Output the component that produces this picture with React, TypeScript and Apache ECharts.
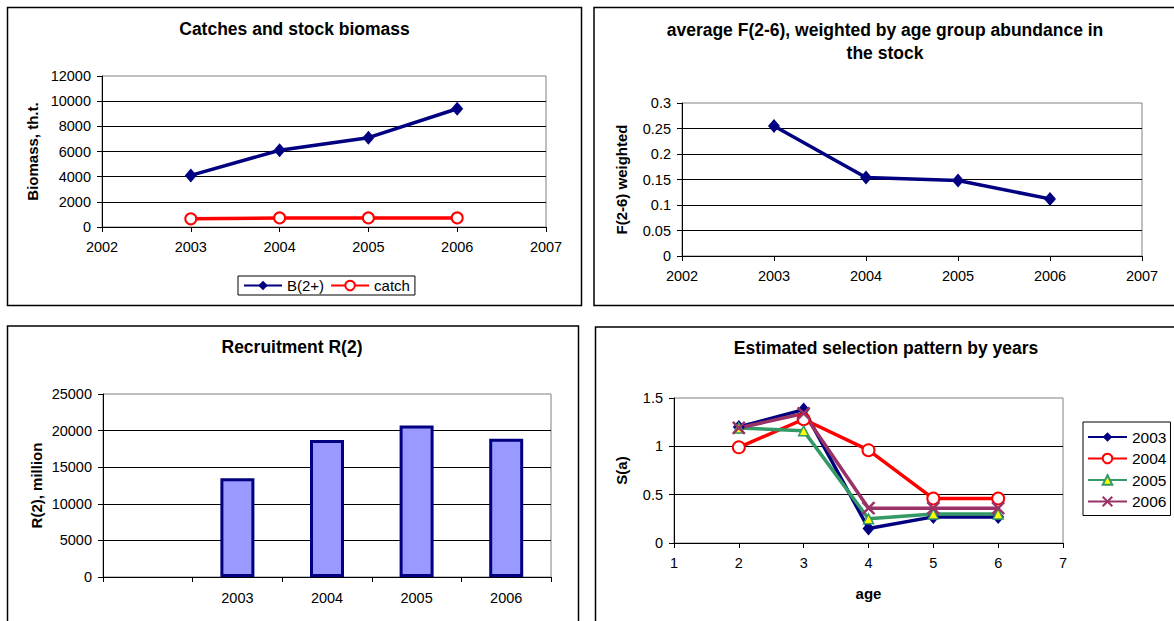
import React, { useEffect, useRef } from "react";
import * as echarts from "echarts";

// Stock assessment summary: four panels
const years = [2003, 2004, 2005, 2006];
const biomass = [4100, 6100, 7100, 9400];
const catches = [650, 720, 720, 720];
const fWeighted = [0.255, 0.154, 0.148, 0.112];

const recruitCategories = ["", "2003", "2004", "2005", "2006"];
const recruitment: (number | string)[] = ["-", 13500, 18700, 20700, 18900];

const ages = [2, 3, 4, 5, 6];
const sel2003 = [1.2, 1.38, 0.15, 0.27, 0.27];
const sel2004 = [0.99, 1.28, 0.96, 0.46, 0.46];
const sel2005 = [1.19, 1.16, 0.25, 0.3, 0.3];
const sel2006 = [1.19, 1.34, 0.36, 0.36, 0.36];

const FONT = "'Liberation Sans', Arial, sans-serif";
const TICK_SIZE = 14.5;
const LEGEND_SIZE = 15.5;
const NAME_SIZE = 15;
const TITLE_SIZE = 17.5;
const LINE_W = 3.5;

const NAVY = "#000080";
const RED = "#ff0000";
const GREEN = "#339966";
const PURPLE = "#993366";

const pairs = (xs: number[], ys: number[]) => xs.map((x, i) => [x, ys[i]]);
const fmt = (v: number) => String(+Number(v).toFixed(4));

function valueXAxis(gridIndex: number, min: number, max: number, extra: any = {}) {
  return {
    type: "value",
    gridIndex,
    min,
    max,
    interval: 1,
    axisLine: { show: true, onZero: false, lineStyle: { color: "#000", width: 1 } },
    axisTick: { show: true, length: 5, lineStyle: { color: "#000" } },
    axisLabel: { color: "#000", fontSize: TICK_SIZE, fontFamily: FONT, margin: 12, formatter: fmt },
    splitLine: { show: false },
    ...extra,
  };
}

function valueYAxis(gridIndex: number, min: number, max: number, interval: number, name: string, nameGap: number) {
  return {
    type: "value",
    gridIndex,
    min,
    max,
    interval,
    name,
    nameLocation: "middle",
    nameRotate: 90,
    nameGap,
    nameTextStyle: { color: "#000", fontSize: NAME_SIZE, fontWeight: "bold", fontFamily: FONT },
    axisLine: { show: true, lineStyle: { color: "#000", width: 1 } },
    axisTick: { show: true, length: 5, lineStyle: { color: "#000" } },
    axisLabel: { color: "#000", fontSize: TICK_SIZE, fontFamily: FONT, margin: 11, formatter: fmt },
    splitLine: { show: true, showMaxLine: false, lineStyle: { color: "#000", width: 1 } },
  };
}

const gridBase = { show: true, borderColor: "#808080", borderWidth: 1, backgroundColor: "transparent" };

function titleText(x: number, y: number, text: string, lineHeight = 23) {
  return {
    type: "text",
    x,
    y,
    style: {
      text,
      fill: "#000",
      font: `bold ${TITLE_SIZE}px ${FONT}`,
      align: "center",
      verticalAlign: "middle",
      lineHeight,
    },
  };
}

function panelRect(x: number, y: number, width: number, height: number) {
  return {
    type: "rect",
    shape: { x, y, width, height },
    style: { fill: "none", stroke: "#000", lineWidth: 1.5 },
  };
}

export default function App() {
  const ref = useRef<HTMLDivElement>(null);

  useEffect(() => {
    if (!ref.current) return;
    const chart = echarts.init(ref.current, null, { renderer: "svg" });

    const option: any = {
      animation: false,
      backgroundColor: "#fff",
      textStyle: { fontFamily: FONT },
      graphic: [
        panelRect(7.5, 7.5, 574, 298),
        panelRect(594, 7.5, 640, 298),
        panelRect(7.5, 326, 571, 400),
        panelRect(595.5, 327, 640, 400),
        titleText(294.5, 29, "Catches and stock biomass"),
        titleText(885, 41.5, "average F(2-6), weighted by age group abundance in\nthe stock"),
        titleText(292, 347, "Recruitment R(2)"),
        titleText(886, 348, "Estimated selection pattern by years"),
      ],
      grid: [
        { ...gridBase, left: 102, top: 76, width: 444, height: 151 },
        { ...gridBase, left: 682, top: 103, width: 460, height: 153 },
        { ...gridBase, left: 103, top: 394, width: 448, height: 183 },
        { ...gridBase, left: 674, top: 398, width: 389, height: 145 },
      ],
      legend: [
        {
          data: ["B(2+)", "catch"],
          left: 238,
          top: 276,
          orient: "horizontal",
          padding: [2, 5],
          itemGap: 6,
          itemWidth: 38,
          itemHeight: 12,
          borderColor: "#000",
          borderWidth: 1,
          backgroundColor: "#fff",
          textStyle: { color: "#000", fontSize: 15, fontFamily: FONT },
        },
        {
          data: ["2003", "2004", "2005", "2006"],
          left: 1083,
          top: 422,
          orient: "vertical",
          padding: [7, 4, 6, 4],
          itemGap: 5.5,
          itemWidth: 39,
          itemHeight: 12,
          borderColor: "#000",
          borderWidth: 1,
          backgroundColor: "#fff",
          textStyle: { color: "#000", fontSize: LEGEND_SIZE, fontFamily: FONT },
        },
      ],
      xAxis: [
        valueXAxis(0, 2002, 2007),
        valueXAxis(1, 2002, 2007),
        {
          type: "category",
          gridIndex: 2,
          data: recruitCategories,
          boundaryGap: true,
          axisLine: { show: true, lineStyle: { color: "#000", width: 1 } },
          axisTick: { show: true, length: 5, lineStyle: { color: "#000" } },
          axisLabel: { color: "#000", fontSize: TICK_SIZE, fontFamily: FONT, margin: 13 },
          splitLine: { show: false },
        },
        valueXAxis(3, 1, 7, {
          name: "age",
          nameLocation: "middle",
          nameGap: 43,
          nameTextStyle: { color: "#000", fontSize: NAME_SIZE, fontWeight: "bold", fontFamily: FONT },
        }),
      ],
      yAxis: [
        valueYAxis(0, 0, 12000, 2000, "Biomass, th.t.", 62),
        valueYAxis(1, 0, 0.3, 0.05, "F(2-6) weighted", 53),
        valueYAxis(2, 0, 25000, 5000, "R(2), million", 59),
        valueYAxis(3, 0, 1.5, 0.5, "S(a)", 45),
      ],
      series: [
        {
          name: "B(2+)",
          type: "line",
          xAxisIndex: 0,
          yAxisIndex: 0,
          data: pairs(years, biomass),
          symbol: "diamond",
          symbolSize: [12, 14],
          lineStyle: { color: NAVY, width: LINE_W },
          itemStyle: { color: NAVY },
        },
        {
          name: "catch",
          type: "line",
          xAxisIndex: 0,
          yAxisIndex: 0,
          data: pairs(years, catches),
          symbol: "circle",
          symbolSize: 11,
          lineStyle: { color: RED, width: LINE_W },
          itemStyle: { color: "#fff", borderColor: RED, borderWidth: 2 },
        },
        {
          name: "F(2-6) weighted",
          type: "line",
          xAxisIndex: 1,
          yAxisIndex: 1,
          data: pairs(years, fWeighted),
          symbol: "diamond",
          symbolSize: [12, 14],
          lineStyle: { color: NAVY, width: LINE_W },
          itemStyle: { color: NAVY },
        },
        {
          name: "R(2)",
          type: "bar",
          xAxisIndex: 2,
          yAxisIndex: 2,
          data: recruitment,
          barWidth: 34,
          itemStyle: { color: "#9999ff", borderColor: NAVY, borderWidth: 3 },
        },
        {
          name: "2003",
          type: "line",
          xAxisIndex: 3,
          yAxisIndex: 3,
          data: pairs(ages, sel2003),
          symbol: "diamond",
          symbolSize: [12, 14],
          lineStyle: { color: NAVY, width: LINE_W },
          itemStyle: { color: NAVY },
        },
        {
          name: "2004",
          type: "line",
          xAxisIndex: 3,
          yAxisIndex: 3,
          data: pairs(ages, sel2004),
          symbol: "circle",
          symbolSize: 12,
          lineStyle: { color: RED, width: LINE_W },
          itemStyle: { color: "#fff", borderColor: RED, borderWidth: 2 },
        },
        {
          name: "2005",
          type: "line",
          xAxisIndex: 3,
          yAxisIndex: 3,
          data: pairs(ages, sel2005),
          symbol: "triangle",
          symbolSize: 10,
          lineStyle: { color: GREEN, width: LINE_W },
          itemStyle: { color: "#ffff00", borderColor: GREEN, borderWidth: 1.5 },
        },
        {
          name: "2006",
          type: "line",
          xAxisIndex: 3,
          yAxisIndex: 3,
          data: pairs(ages, sel2006),
          symbol: "path://M0 0L10 10M10 0L0 10",
          symbolSize: 12,
          lineStyle: { color: PURPLE, width: LINE_W },
          itemStyle: { color: PURPLE, borderColor: PURPLE, borderWidth: 2.5 },
        },
      ],
    };

    chart.setOption(option);
    return () => chart.dispose();
  }, []);

  return (
    <div
      ref={ref}
      style={{ position: "absolute", left: 0, top: 0, width: 1174, height: 621, background: "#fff" }}
    />
  );
}
